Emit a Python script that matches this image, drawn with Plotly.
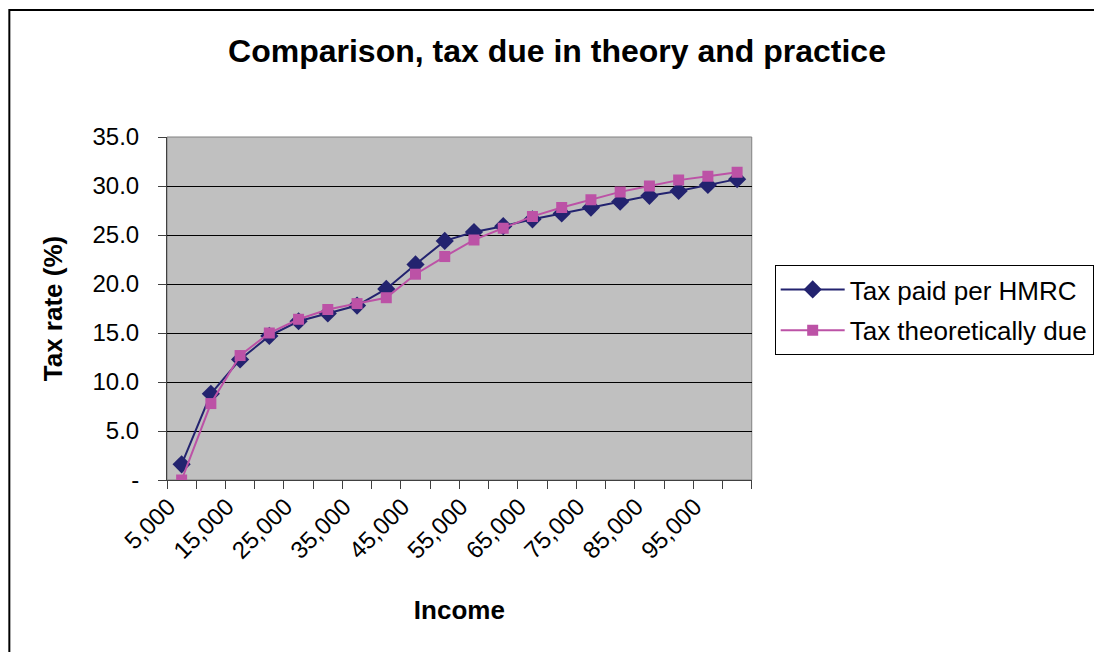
import plotly.graph_objects as go

income = [5000, 10000, 15000, 20000, 25000, 30000, 35000, 40000, 45000, 50000,
          55000, 60000, 65000, 70000, 75000, 80000, 85000, 90000, 95000, 100000]
tax_paid_hmrc = [1.6, 8.8, 12.3, 14.7, 16.2, 17.0, 17.8, 19.5, 22.0, 24.4,
                 25.3, 25.9, 26.6, 27.2, 27.8, 28.4, 29.0, 29.5, 30.1, 30.7]
tax_theoretical = [0.0, 7.8, 12.7, 15.0, 16.4, 17.4, 18.0, 18.6, 21.0, 22.8,
                   24.5, 25.7, 26.9, 27.8, 28.6, 29.4, 30.0, 30.6, 31.0, 31.4]
x_tick_vals = [5000, 15000, 25000, 35000, 45000, 55000, 65000, 75000, 85000, 95000]
x_tick_text = ["5,000", "15,000", "25,000", "35,000", "45,000",
               "55,000", "65,000", "75,000", "85,000", "95,000"]
y_tick_vals = [0, 5, 10, 15, 20, 25, 30, 35]
y_tick_text = ["-", "5.0", "10.0", "15.0", "20.0", "25.0", "30.0", "35.0"]

step = income[1] - income[0]
boundaries = [v - step / 2 for v in income] + [income[-1] + step / 2]
label_shift = 0.45 * step  # rotated labels sit slightly left of the category centre
label_pos = [v - label_shift for v in x_tick_vals]

FONT = "Liberation Sans, Arial, sans-serif"
navy = "#23236F"
pink = "#BC52A6"

fig = go.Figure()
fig.add_trace(go.Scatter(
    x=income, y=tax_paid_hmrc, name="Tax paid per HMRC", mode="lines+markers",
    line=dict(color=navy, width=2), legendgroup="a",
    marker=dict(symbol="diamond", size=14, color=navy),
))
fig.add_trace(go.Scatter(
    x=income, y=tax_theoretical, name="Tax theoretically due", mode="lines+markers",
    line=dict(color=pink, width=2), legendgroup="b",
    marker=dict(symbol="square", size=11, color=pink),
))

W, H = 1094, 652
L, R, T, B = 167, 753, 137, 480
MR = 0
paper_w = W - L - MR
ph = B - T

def px(p):
    return (p - L) / paper_w

def py(p):
    return (B - p) / ph

fig.update_layout(
    width=W, height=H,
    margin=dict(l=L, r=MR, t=T, b=H - B, pad=0),
    paper_bgcolor="white",
    plot_bgcolor="#C0C0C0",
    font=dict(family=FONT, color="black"),
    title=dict(text="<b>Comparison, tax due in theory and practice</b>",
               x=557 / W, xanchor="center", y=1 - 51 / H, yanchor="middle",
               font=dict(size=32, family=FONT, color="black")),
    showlegend=True,
    legend=dict(x=px(776), xanchor="left", y=py(265), yanchor="top",
                bordercolor="black", borderwidth=1, bgcolor="white",
                font=dict(size=26, family=FONT), itemwidth=64,
                tracegroupgap=4),
    xaxis=dict(
        domain=[0, px(R)],
        range=[boundaries[0], boundaries[-1]], tickmode="array",
        tickvals=label_pos, ticktext=x_tick_text, tickangle=-45, ticks="",
        tickfont=dict(size=24, family=FONT),
        showgrid=False, zeroline=False,
        showline=True, linecolor="#404040", linewidth=1, mirror=False,
        ticklabelstandoff=2,
        minor=dict(tickmode="array", tickvals=boundaries, ticks="outside",
                   ticklen=8, tickcolor="#404040", showgrid=False),
        title=dict(text="<b>Income</b>", font=dict(size=26, family=FONT),
                   standoff=38),
    ),
    yaxis=dict(
        range=[0, 35], tickmode="array", tickvals=y_tick_vals,
        ticktext=y_tick_text, ticks="outside", ticklen=8, tickcolor="#404040",
        tickfont=dict(size=24, family=FONT),
        showgrid=True, gridcolor="black", gridwidth=1, zeroline=False,
        showline=True, linecolor="#404040", linewidth=1,
        ticklabelstandoff=14,
        title=dict(text="<b>Tax rate (%)</b>", font=dict(size=26, family=FONT),
                   standoff=22),
    ),
)

# plot-area border (top and right) in gray
fig.add_shape(type="rect", xref="paper", yref="paper", x0=0, x1=px(R), y0=0, y1=1,
              line=dict(color="#808080", width=1), layer="below")
# outer chart border
fig.add_shape(type="rect", xref="paper", yref="paper",
              x0=px(9), x1=px(1110), y0=py(670), y1=py(10),
              line=dict(color="black", width=2))

fig.write_html("out.html")
